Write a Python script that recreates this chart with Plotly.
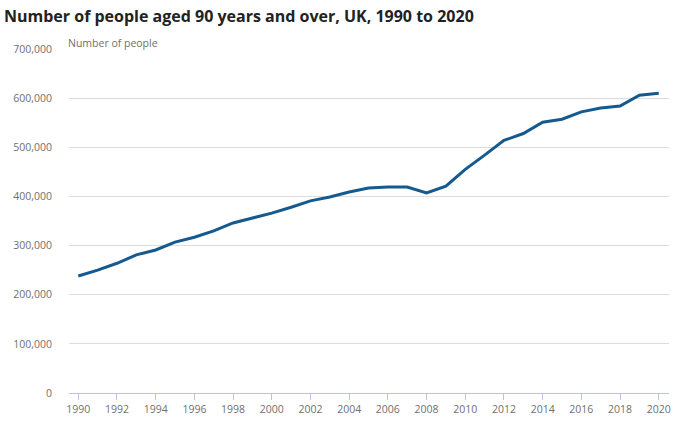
import plotly.graph_objects as go

years = list(range(1990, 2021))
people = [238000, 250000, 264000, 281000, 291000, 307000, 317000, 330000, 346000, 356000,
          366000, 378000, 391000, 399000, 409000, 417000, 419000, 419000, 407000, 421000,
          455000, 484000, 514000, 528000, 551000, 557000, 572000, 580000, 584000, 606000, 610000]
y_ticks = [0, 100000, 200000, 300000, 400000, 500000, 600000, 700000]
y_tick_text = ["0", "100,000", "200,000", "300,000", "400,000", "500,000", "600,000", "700,000"]
x_ticks = list(range(1990, 2021, 2))

fig = go.Figure()
fig.add_trace(go.Scatter(x=years, y=people, mode="lines",
                         line=dict(color="#155a8f", width=3), hoverinfo="x+y"))

fig.update_layout(
    width=683, height=422,
    margin=dict(l=69, r=14, t=49, b=29),
    paper_bgcolor="white", plot_bgcolor="white",
    showlegend=False,
    font=dict(family="Open Sans", color="#707070", size=10.5),
    title=dict(text="<b>Number of people aged 90 years and over, UK, 1990 to 2020</b>",
               xref="container", x=0, xanchor="left", y=0.962, yanchor="middle",
               pad=dict(l=4),
               font=dict(family="Open Sans", size=16, color="#222222")),
    xaxis=dict(range=[1989.52, 2020.53], tickmode="array", tickvals=x_ticks,
               ticktext=[str(v) for v in x_ticks], automargin=False,
               showgrid=False, zeroline=False, showline=True, linecolor="#b9c4e3", linewidth=1,
               ticks="outside", ticklen=6, tickcolor="#b9c4e3",
               tickfont=dict(size=10.5, color="#707070")),
    yaxis=dict(range=[0, 700000], tickmode="array", tickvals=y_ticks, ticktext=y_tick_text,
               showgrid=True, gridcolor="#dddddd", gridwidth=1, zeroline=False,
               ticks="", ticklabelstandoff=16, automargin=False,
               tickfont=dict(size=10.5, color="#707070")),
    annotations=[dict(text="Number of people", xref="paper", yref="y", x=0, y=700000,
                      xanchor="left", yanchor="bottom", showarrow=False, yshift=-3, xshift=-3,
                      font=dict(size=10.5, color="#707070"))],
)

fig.write_html("out.html", config={"displayModeBar": False},
               post_script="document.body.style.margin='0';document.body.style.overflow='hidden';")
